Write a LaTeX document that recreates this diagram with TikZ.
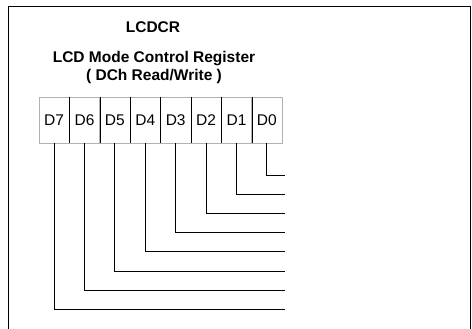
\documentclass[tikz,border=0pt]{standalone}
\usepackage{fontspec}
\setmainfont{Liberation Sans}
\usetikzlibrary{calc}

\begin{document}
\begin{tikzpicture}[x=1pt, y=-1pt, line width=0.8pt,
		font=\fontsize{15.5}{18}\selectfont,
		cell/.style={draw=gray!60, line width=0.5pt, minimum width=30.4pt, minimum height=46pt, inner sep=0pt, text depth=-7pt},
		lead/.style={line width=0.9pt}]
		\useasboundingbox (0,0) rectangle (472,329);
		\draw[line width=1.4pt] (8.5,329) -- (8.5,6.5) -- (470.5,6.5) -- (470.5,329);
		\node[font=\fontsize{15.5}{18}\selectfont\bfseries] (name) at (153,27) {LCDCR};
		\node[font=\fontsize{15.5}{18}\selectfont\bfseries, align=center] (desc) at (154,67) {LCD Mode Control Register\\( DCh Read/Write )};
		% register cells, D0 at the right
		\foreach \i in {0,...,7} {
			\node[cell] (d\i) at ({266.9-30.4*\i},120) {D\i};
		}
		\foreach \i in {1,...,7} {
			\draw (d\i.north east) -- (d\i.south east);
		}
		% bit leads
		\foreach \i in {0,...,7} {
			\coordinate (end\i) at (285,{175+19.2*\i});
			\draw[lead] (d\i.south) |- (end\i);
		}
	\end{tikzpicture}
\end{document}
